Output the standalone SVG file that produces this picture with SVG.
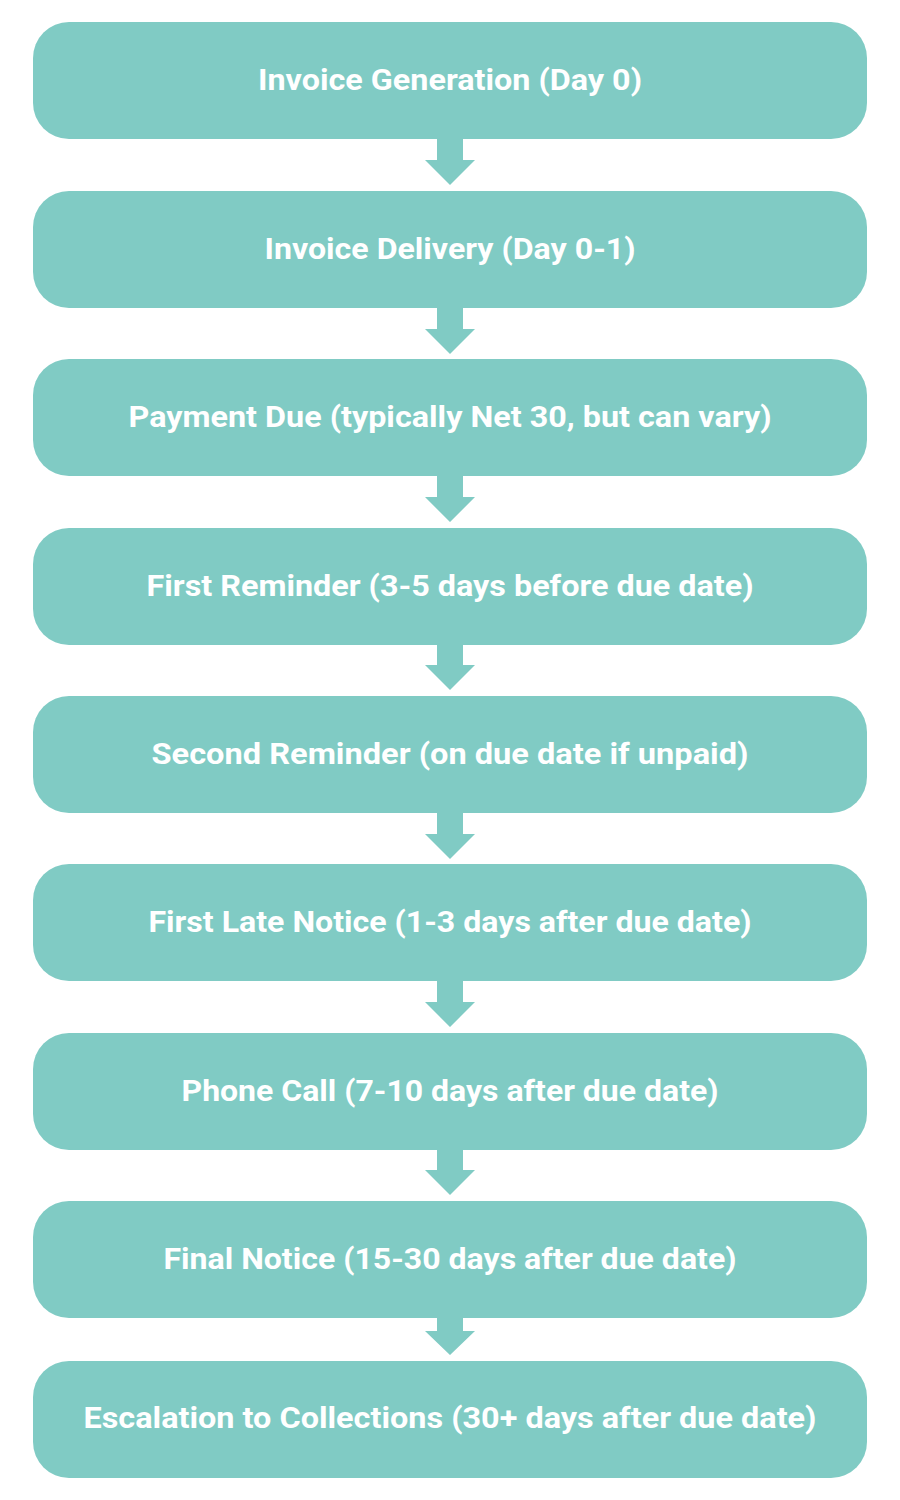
<svg xmlns="http://www.w3.org/2000/svg" width="900" height="1500" viewBox="0 0 900 1500">
<style>
.box{fill:#80CBC4;}
.arr{fill:#80CBC4;}
.lbl{font-family:Roboto,"Liberation Sans",sans-serif;font-weight:700;font-size:29px;fill:#FFFFFF;text-anchor:middle;}
</style>
<rect width="900" height="1500" fill="#FFFFFF"/>
<g id="connectors">
<polygon class="arr" points="437,138 463,138 463,160 475,160 450,185 425,160 437,160"/>
<polygon class="arr" points="437,307 463,307 463,329 475,329 450,354 425,329 437,329"/>
<polygon class="arr" points="437,475 463,475 463,497 475,497 450,522 425,497 437,497"/>
<polygon class="arr" points="437,644 463,644 463,665 475,665 450,690 425,665 437,665"/>
<polygon class="arr" points="437,812 463,812 463,834 475,834 450,859 425,834 437,834"/>
<polygon class="arr" points="437,980 463,980 463,1002 475,1002 450,1027 425,1002 437,1002"/>
<polygon class="arr" points="437,1149 463,1149 463,1170 475,1170 450,1195 425,1170 437,1170"/>
<polygon class="arr" points="437,1317 463,1317 463,1331 475,1331 450,1355 425,1331 437,1331"/>
</g>
<g id="node1"><rect class="box" x="33" y="22" width="834" height="117" rx="36"/><text class="lbl" x="450" y="90" textLength="384" lengthAdjust="spacingAndGlyphs">Invoice Generation (Day 0)</text></g>
<g id="node2"><rect class="box" x="33" y="191" width="834" height="117" rx="36"/><text class="lbl" x="450" y="259" textLength="371" lengthAdjust="spacingAndGlyphs">Invoice Delivery (Day 0-1)</text></g>
<g id="node3"><rect class="box" x="33" y="359" width="834" height="117" rx="36"/><text class="lbl" x="450" y="427" textLength="643" lengthAdjust="spacingAndGlyphs">Payment Due (typically Net 30, but can vary)</text></g>
<g id="node4"><rect class="box" x="33" y="528" width="834" height="117" rx="36"/><text class="lbl" x="450" y="596" textLength="607" lengthAdjust="spacingAndGlyphs">First Reminder (3-5 days before due date)</text></g>
<g id="node5"><rect class="box" x="33" y="696" width="834" height="117" rx="36"/><text class="lbl" x="450" y="764" textLength="597" lengthAdjust="spacingAndGlyphs">Second Reminder (on due date if unpaid)</text></g>
<g id="node6"><rect class="box" x="33" y="864" width="834" height="117" rx="36"/><text class="lbl" x="450" y="932" textLength="603" lengthAdjust="spacingAndGlyphs">First Late Notice (1-3 days after due date)</text></g>
<g id="node7"><rect class="box" x="33" y="1033" width="834" height="117" rx="36"/><text class="lbl" x="450" y="1101" textLength="537" lengthAdjust="spacingAndGlyphs">Phone Call (7-10 days after due date)</text></g>
<g id="node8"><rect class="box" x="33" y="1201" width="834" height="117" rx="36"/><text class="lbl" x="450" y="1269" textLength="573" lengthAdjust="spacingAndGlyphs">Final Notice (15-30 days after due date)</text></g>
<g id="node9"><rect class="box" x="33" y="1361" width="834" height="117" rx="36"/><text class="lbl" x="450" y="1428" textLength="733" lengthAdjust="spacingAndGlyphs">Escalation to Collections (30+ days after due date)</text></g>
</svg>
